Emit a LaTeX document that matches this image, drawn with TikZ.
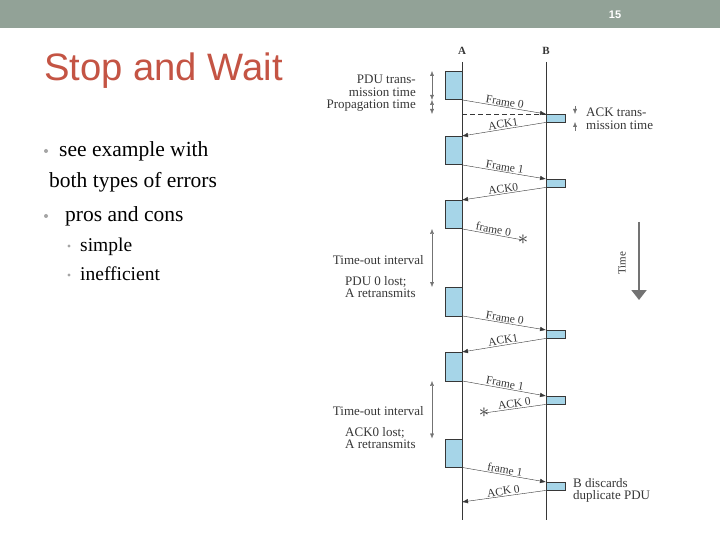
\documentclass[tikz,border=0pt]{standalone}
\usepackage{fontspec}
\setmainfont{Liberation Serif}
\newfontfamily\slidesans{Liberation Sans}
\usetikzlibrary{arrows.meta}
\definecolor{hdrgrey}{RGB}{146,162,151}
\definecolor{titlered}{RGB}{196,84,68}
\definecolor{pdublue}{RGB}{166,213,232}
\definecolor{inkgrey}{RGB}{55,55,55}
\definecolor{dimgrey}{RGB}{115,115,115}
\definecolor{bulgrey}{RGB}{165,165,165}
\begin{document}
\begin{tikzpicture}[x=1pt,y=-1pt]
		\tikzset{apdu/.style = {draw=inkgrey,fill=pdublue,minimum width=17pt,minimum height=28.5pt,inner sep=0pt,anchor=north east}}
		\tikzset{bpdu/.style = {draw=inkgrey,fill=pdublue,minimum width=19pt,minimum height=8pt,inner sep=0pt,anchor=north west}}
		\tikzset{msg/.style = {draw=inkgrey,->,> = {Latex[length=6pt,width=4.5pt]}}}
		\tikzset{lostmsg/.style = {draw=inkgrey}}
		\tikzset{lbl/.style = {sloped,above,inner sep=1pt,text=inkgrey,font=\fontsize{11.5}{12}\selectfont}}
		\tikzset{note/.style = {text=inkgrey,inner sep=0pt,font=\fontsize{13}{12.5}\selectfont}}
		\tikzset{dim/.style = {draw=dimgrey,<->,> = {Latex[length=5pt,width=4pt]}}}
		\tikzset{txt/.style = {anchor=base west,inner sep=0pt,text=black}}
		\useasboundingbox (0,0) rectangle (720,540);
		\fill[white] (0,0) rectangle (720,540);
		% slide header and text
		\fill[hdrgrey] (0,0) rectangle (720,28);
		\node[text=white,font=\slidesans\bfseries\fontsize{11}{11}\selectfont] (page) at (615,15) {15};
		\node[txt,text=titlered,font=\slidesans\fontsize{38.2}{38}\selectfont] (title) at (44,81) {Stop and Wait};
		\node[txt,font=\fontsize{21.5}{22}\selectfont] (p1) at (59,157) {see example with};
		\node[txt,font=\fontsize{21.5}{22}\selectfont] (p1b) at (49,188) {both types of errors};
		\node[txt,font=\fontsize{21.5}{22}\selectfont] (p2) at (65,221.5) {pros and cons};
		\node[txt,font=\fontsize{19.5}{20}\selectfont] (s1) at (80,251.5) {simple};
		\node[txt,font=\fontsize{19.5}{20}\selectfont] (s2) at (80,280.5) {inefficient};
		\fill[bulgrey] (46,151) circle (2pt) (46,216) circle (2pt);
		\fill[bulgrey] (69,246) circle (1.7pt) (69,275) circle (1.7pt);
		% stations
		\node[text=inkgrey,font=\bfseries\fontsize{11}{11}\selectfont] (A) at (462,51) {A};
		\node[text=inkgrey,font=\bfseries\fontsize{11}{11}\selectfont] (B) at (546,51) {B};
		\coordinate (Atop) at (462,62);
		\coordinate (Abot) at (462,520);
		\coordinate (Btop) at (546,62);
		\coordinate (Bbot) at (546,520);
		\draw[inkgrey] (Atop) -- (Abot);
		\draw[inkgrey] (Btop) -- (Bbot);
		\node[apdu] (a1) at (462,71) {};
		\node[apdu] (a2) at (462,136) {};
		\node[apdu] (a3) at (462,200) {};
		\node[apdu] (a4) at (462,287) {};
		\node[apdu] (a5) at (462,352) {};
		\node[apdu] (a6) at (462,438.5) {};
		\node[bpdu] (b1) at (546,114) {};
		\node[bpdu] (b2) at (546,179) {};
		\node[bpdu] (b3) at (546,330) {};
		\node[bpdu] (b4) at (546,396) {};
		\node[bpdu] (b5) at (546,482) {};
		\node[text=inkgrey,inner sep=0pt,font=\fontsize{22}{22}\selectfont] (x1) at (523,240) {$\ast$};
		\node[text=inkgrey,inner sep=0pt,font=\fontsize{22}{22}\selectfont] (x2) at (484,413) {$\ast$};
		\coordinate (d0) at (462,114);
		\coordinate (aend) at (462,502);
		% frames and acks
		\path (a1.south east) edge[msg] node[lbl] {Frame 0} (b1.north west);
		\path (b1.south west) edge[msg] node[lbl] {ACK1} (a2.north east);
		\path (a2.south east) edge[msg] node[lbl] {Frame 1} (b2.north west);
		\path (b2.south west) edge[msg] node[lbl] {ACK0} (a3.north east);
		\path (a3.south east) edge[lostmsg] node[lbl] {frame 0} (x1.center);
		\path (a4.south east) edge[msg] node[lbl] {Frame 0} (b3.north west);
		\path (b3.south west) edge[msg] node[lbl] {ACK1} (a5.north east);
		\path (a5.south east) edge[msg] node[lbl] {Frame 1} (b4.north west);
		\path (b4.south west) edge[lostmsg] node[lbl] {ACK 0} (x2.center);
		\path (a6.south east) edge[msg] node[lbl] {frame 1} (b5.north west);
		\path (b5.south west) edge[msg] node[lbl] {ACK 0} (aend);
		\draw[inkgrey,dash pattern=on 5pt off 3pt] (d0) -- (b1.north west);
		% time intervals
		\coordinate (tx) at (432,0);
		\draw[dim] (tx |- a1.north) -- (tx |- a1.south);
		\draw[dim] (tx |- a1.south) -- (tx |- b1.north);
		\draw[dim] (tx |- a3.south) -- (tx |- a4.north);
		\draw[dim] (tx |- a5.south) -- (tx |- a6.north);
		\coordinate (ackin) at (575,114);
		\coordinate (ackout) at (575,122);
		\draw[dim,->] ([yshift=8pt]ackin) -- (ackin);
		\draw[dim,->] ([yshift=-9pt]ackout) -- (ackout);
		\node[note,anchor=east,align=right] (pdut) at (416,86) {PDU trans-\\mission time};
		\node[note,anchor=east] (prop) at (416,106) {Propagation time};
		\node[note,anchor=east] (to1) at (424,260) {Time-out interval};
		\node[note,anchor=west,align=left] (lost1) at (345,287) {PDU 0 lost;\\A retransmits};
		\node[note,anchor=east] (to2) at (424,411) {Time-out interval};
		\node[note,anchor=west,align=left] (lost2) at (345,438) {ACK0 lost;\\A retransmits};
		\node[note,anchor=west,align=left] (ackt) at (586,119) {ACK trans-\\mission time};
		\node[note,anchor=west,align=left] (bdis) at (573,490.5) {B discards\\duplicate PDU};
		% time axis
		\coordinate (t0) at (639,222);
		\coordinate (t1) at (639,300);
		\draw[draw=dimgrey,line width=2pt,-{Triangle[width=15pt,length=10pt]}] (t0) -- (t1);
		\node[note,rotate=90,font=\fontsize{11}{11}\selectfont] (tlab) at (622,263) {Time};
	\end{tikzpicture}
\end{document}
